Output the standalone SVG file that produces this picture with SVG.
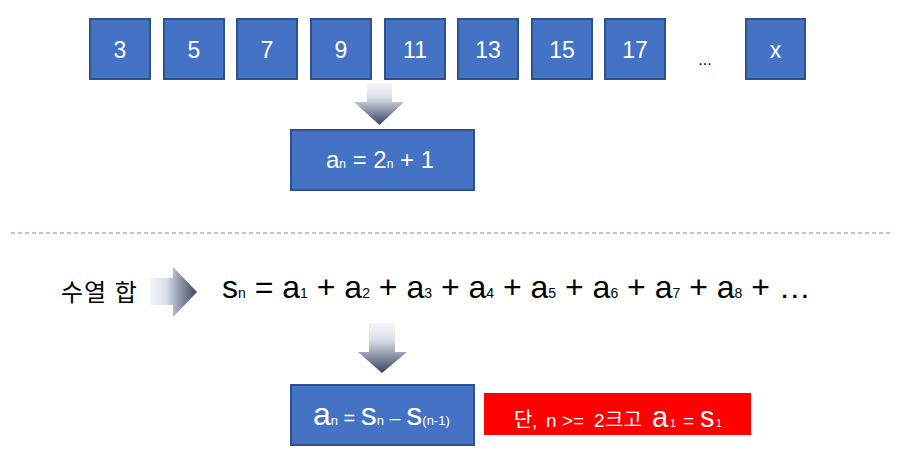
<svg xmlns="http://www.w3.org/2000/svg" width="901" height="461" viewBox="0 0 901 461">
<style>
.box{fill:#4472C4;stroke:#2F528F;stroke-width:2}
.wt{fill:#ffffff;font-family:"Liberation Sans","Noto Sans CJK KR",Arial,sans-serif}
.bk{fill:#000000;font-family:"Liberation Sans","Noto Sans CJK KR",Arial,sans-serif}
.num{font-size:23px;text-anchor:middle}
</style>
<defs>
<linearGradient id="gv" x1="0" y1="0" x2="0" y2="1">
<stop offset="0" stop-color="#f6f7fb"/>
<stop offset="0.35" stop-color="#d9dde8"/>
<stop offset="1" stop-color="#36435f"/>
</linearGradient>
<linearGradient id="gh" x1="0" y1="0" x2="1" y2="0">
<stop offset="0" stop-color="#f6f7fb"/>
<stop offset="0.35" stop-color="#d9dde8"/>
<stop offset="1" stop-color="#36435f"/>
</linearGradient>
</defs>
<rect width="901" height="461" fill="#ffffff"/>
<g id="n3"><rect class="box" x="90" y="19" width="60" height="60"/><text class="wt num" x="120" y="58">3</text></g>
<g id="n5"><rect class="box" x="164" y="19" width="60" height="60"/><text class="wt num" x="194" y="58">5</text></g>
<g id="n7"><rect class="box" x="237" y="19" width="60" height="60"/><text class="wt num" x="267" y="58">7</text></g>
<g id="n9"><rect class="box" x="311" y="19" width="60" height="60"/><text class="wt num" x="341" y="58">9</text></g>
<g id="n11"><rect class="box" x="385" y="19" width="60" height="60"/><text class="wt num" x="415" y="58">11</text></g>
<g id="n13"><rect class="box" x="458" y="19" width="60" height="60"/><text class="wt num" x="488" y="58">13</text></g>
<g id="n15"><rect class="box" x="532" y="19" width="60" height="60"/><text class="wt num" x="562" y="58">15</text></g>
<g id="n17"><rect class="box" x="605" y="19" width="60" height="60"/><text class="wt num" x="635" y="58">17</text></g>
<g id="dots"><text class="bk" x="705" y="65" font-size="16" text-anchor="middle">...</text></g>
<g id="nx"><rect class="box" x="746" y="19" width="59" height="60"/><text class="wt num" x="775.5" y="58">x</text></g>
<g id="connectors">
<polygon points="367,83 392,83 392,102 404,102 379.5,125 354,102 367,102" fill="url(#gv)"/>
<polygon points="150,278 173,278 173,267 197,292 173,317 173,305 150,305" fill="url(#gh)"/>
<polygon points="369,323 395,323 395,352 407,352 382,373 358,352 369,352" fill="url(#gv)"/>
<line x1="11" y1="233" x2="893" y2="233" stroke="#b4c7e7" stroke-width="2" stroke-dasharray="4 3"/>
</g>
<g id="formula1"><rect class="box" x="291" y="130" width="183" height="60"/>
<text class="wt" x="380" y="168" font-size="24" text-anchor="middle">a<tspan font-size="12">n</tspan> = 2<tspan font-size="12">n</tspan> + 1</text></g>
<g id="sumlabel"><text class="bk" x="61" y="301" font-size="24" letter-spacing="1">수열 합</text></g>
<g id="sum"><text class="bk" x="222" y="298" font-size="32">s<tspan font-size="14">n</tspan> = a<tspan font-size="14">1</tspan> + a<tspan font-size="14">2</tspan> + a<tspan font-size="14">3</tspan> + a<tspan font-size="14">4</tspan> + a<tspan font-size="14">5</tspan> + a<tspan font-size="14">6</tspan> + a<tspan font-size="14">7</tspan> + a<tspan font-size="14">8</tspan> + …</text></g>
<g id="formula2"><rect class="box" x="291" y="385" width="183" height="60"/>
<text class="wt" x="313" y="425" font-size="32">a<tspan font-size="13">n</tspan><tspan font-size="20"> = </tspan>s<tspan font-size="13">n</tspan><tspan font-size="20"> – </tspan>s<tspan font-size="13">(n-1)</tspan></text></g>
<g id="note"><rect x="484" y="393" width="267" height="42" fill="#ff0000"/>
<text class="wt" y="427" font-size="19"><tspan x="514" font-size="20">단</tspan><tspan x="532">,</tspan><tspan x="546">n</tspan><tspan x="562">&gt;=</tspan><tspan x="594">2</tspan><tspan x="605" font-size="20">크고</tspan><tspan x="652" font-size="29">a</tspan><tspan x="670" font-size="11">1</tspan><tspan x="683">=</tspan><tspan x="700" font-size="29">s</tspan><tspan x="716" font-size="11">1</tspan></text></g>
</svg>
